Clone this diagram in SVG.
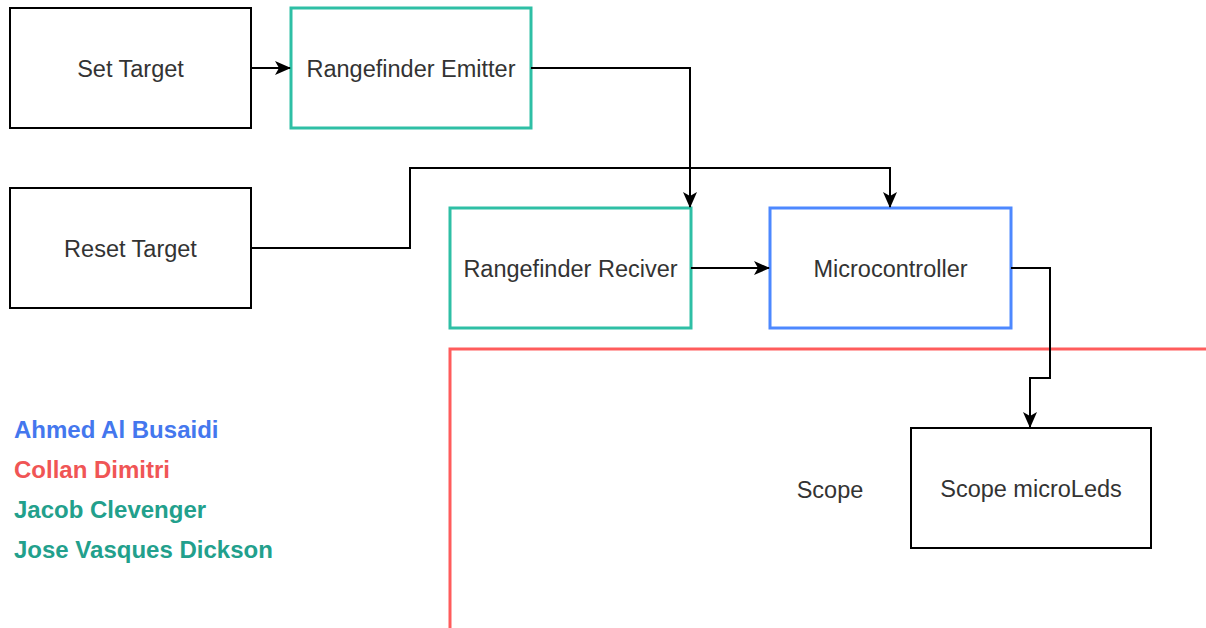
<svg xmlns="http://www.w3.org/2000/svg" width="1206" height="628" viewBox="0 0 1206 628">
<style>
.box{fill:#fff;stroke:#000;stroke-width:2}
.teal{fill:#fff;stroke:#2ebfa5;stroke-width:3}
.blue{fill:#fff;stroke:#4d88ff;stroke-width:3}
.lbl{font-family:"Liberation Sans",Arial,sans-serif;font-size:23.5px;fill:#333;text-anchor:middle}
.name{font-family:"Liberation Sans",Arial,sans-serif;font-size:24px;font-weight:bold}
.edge{fill:none;stroke:#000;stroke-width:2}
</style>
<defs>
<marker id="arr" markerWidth="16" markerHeight="14" refX="15" refY="7" orient="auto" markerUnits="userSpaceOnUse">
<path d="M0,0 L16,7 L0,14 L4,7 Z" fill="#000"/>
</marker>
</defs>
<rect width="1206" height="628" fill="#fff"/>
<g id="scope">
<rect x="450" y="349" width="800" height="320" fill="none" stroke="#ff5c5c" stroke-width="3"/>
<text class="lbl" x="830" y="498">Scope</text>
</g>
<g id="set-target"><rect class="box" x="10" y="8" width="241" height="120"/><text class="lbl" x="130.5" y="77">Set Target</text></g>
<g id="rangefinder-emitter"><rect class="teal" x="291" y="8" width="240" height="120"/><text class="lbl" x="411" y="77">Rangefinder Emitter</text></g>
<g id="reset-target"><rect class="box" x="10" y="188" width="241" height="120"/><text class="lbl" x="130.5" y="257">Reset Target</text></g>
<g id="rangefinder-reciver"><rect class="teal" x="450" y="208" width="241" height="120"/><text class="lbl" x="570.5" y="277">Rangefinder Reciver</text></g>
<g id="microcontroller"><rect class="blue" x="770" y="208" width="241" height="120"/><text class="lbl" x="890.5" y="277">Microcontroller</text></g>
<g id="scope-microleds"><rect class="box" x="911" y="428" width="240" height="120"/><text class="lbl" x="1031" y="497">Scope microLeds</text></g>
<g id="connectors">
<path class="edge" d="M251,68 H290" marker-end="url(#arr)"/>
<path class="edge" d="M531,68 H690 V207" marker-end="url(#arr)"/>
<path class="edge" d="M251,248 H410 V168 H890 V207" marker-end="url(#arr)"/>
<path class="edge" d="M691,268 H769" marker-end="url(#arr)"/>
<path class="edge" d="M1011,268 H1050 V378 H1030 V427" marker-end="url(#arr)"/>
</g>
<g id="legend">
<text class="name" x="14" y="438" fill="#4477ee">Ahmed Al Busaidi</text>
<text class="name" x="14" y="478" fill="#f05555">Collan Dimitri</text>
<text class="name" x="14" y="518" fill="#22a08c">Jacob Clevenger</text>
<text class="name" x="14" y="558" fill="#22a08c">Jose Vasques Dickson</text>
</g>
</svg>
